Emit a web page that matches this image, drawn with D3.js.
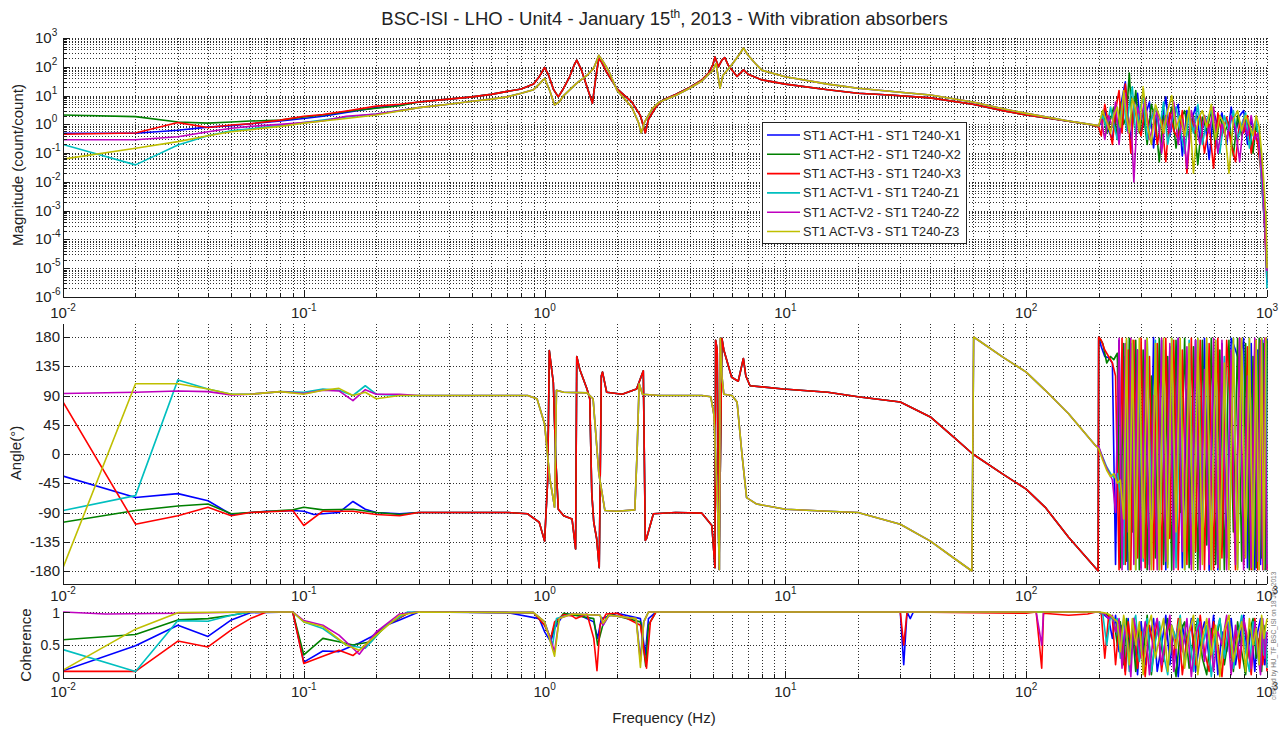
<!DOCTYPE html>
<html>
<head>
<meta charset="utf-8">
<script src="https://cdn.jsdelivr.net/npm/d3@7"></script>
<style>
  body { margin: 0; background: #fff; }
  svg { display: block; font-family: "Liberation Sans", Arial, sans-serif; }
</style>
</head>
<body>
<svg id="chart" width="1285" height="729"></svg>
<script>
// ---------------------------------------------------------------------------
// Transfer functions ST1 actuators -> ST1 T240 seismometers (BSC-ISI Unit4)
// ---------------------------------------------------------------------------
const seriesNames = [
  "ST1 ACT-H1 - ST1 T240-X1",
  "ST1 ACT-H2 - ST1 T240-X2",
  "ST1 ACT-H3 - ST1 T240-X3",
  "ST1 ACT-V1 - ST1 T240-Z1",
  "ST1 ACT-V2 - ST1 T240-Z2",
  "ST1 ACT-V3 - ST1 T240-Z3"
];
const seriesColors = ["#0000ff", "#008000", "#ff0000", "#00bfbf", "#bf00bf", "#bfbf00"];

const freqTicks = [0.01, 0.1, 1, 10, 100, 1000];
const magTicks = [1e-6, 1e-5, 1e-4, 1e-3, 1e-2, 1e-1, 1, 10, 100, 1000];
const angleTicks = [-180, -135, -90, -45, 0, 45, 90, 135, 180];
const cohTicks = [0, 0.5, 1];

// frequency points of the high-frequency (noisy) band, Hz
const freqNoiseH = [200,205,212,220,228,235,243,250,258,265,272,280,290,300,312,325,338,350,365,380,395,410,428,445,465,485,505,528,550,575,600,625,650,680,710,740,770,800,830,860,890,915,940,960,980,1000];
const freqNoiseV = [200,208,216,224,231,239,246,254,261,268,276,285,295,306,318,331,344,357,372,387,402,419,436,455,475,495,516,539,562,587,612,637,665,695,725,755,785,815,845,875,902,928,950,970,990,1000];

// ---- magnitude (count/count) ----
const magLowH1 = [[0.01,0.49],[0.02,0.49],[0.03,0.62],[0.04,0.8],[0.05,0.9],[0.06,1.05],[0.08,1.3],[0.1,1.6],[0.12,1.9],[0.15,2.6],[0.2,3.8],[0.25,4.6]];
const magLowH2 = [[0.01,2.1],[0.02,1.85],[0.03,1.2],[0.04,1.1],[0.05,1.2],[0.06,1.3],[0.08,1.4],[0.1,1.8],[0.12,2.1],[0.15,2.8],[0.2,3.6],[0.25,4.4]];
const magLowH3 = [[0.01,0.45],[0.02,0.5],[0.03,1.15],[0.04,0.78],[0.05,0.95],[0.06,1.05],[0.08,1.4],[0.1,1.9],[0.12,2.2],[0.15,2.9],[0.2,4.3],[0.25,5]];
const magLowV1 = [[0.01,0.2],[0.02,0.039],[0.03,0.19],[0.04,0.4],[0.05,0.6],[0.06,0.7],[0.08,0.9],[0.1,1.15],[0.12,1.4],[0.15,1.8],[0.2,2.3],[0.25,3]];
const magLowV2 = [[0.01,0.29],[0.02,0.29],[0.03,0.37],[0.04,0.55],[0.05,0.73],[0.06,0.85],[0.08,1.0],[0.1,1.15],[0.12,1.3],[0.15,1.9],[0.2,2.3],[0.25,3]];
const magLowV3 = [[0.01,0.062],[0.02,0.148],[0.03,0.25],[0.04,0.4],[0.05,0.55],[0.06,0.65],[0.08,0.85],[0.1,1.1],[0.12,1.3],[0.15,1.6],[0.2,2.1],[0.25,2.9]];

const magMidH = [[0.3,6],[0.4,7.5],[0.5,9],[0.6,11],[0.7,14],[0.8,17],[0.9,25],[0.95,45],[1.0,95],[1.04,50],[1.09,16],[1.14,9],[1.2,18],[1.27,45],[1.33,120],[1.36,170],[1.42,80],[1.5,20],[1.58,5.4],[1.63,40],[1.68,200],[1.72,150],[1.8,70],[2.0,17],[2.3,6],[2.5,2],[2.62,0.5],[2.7,1.5],[2.9,4],[3.1,7],[3.5,11],[4.0,19],[4.5,35],[4.8,60],[5.0,120],[5.1,220],[5.27,100],[5.45,170],[5.6,210],[5.8,110],[6.0,77],[6.3,46],[6.7,78],[7.0,55],[8,35],[10,25],[15,16],[20,12],[27,10.5],[40,8.3],[60,5],[80,3],[100,2.1],[132,1.5],[181,1.0],[199,0.82]];
const magMidV = [[0.3,3.8],[0.4,5],[0.5,6.3],[0.6,7.5],[0.7,9],[0.8,12],[0.9,16],[0.95,25],[1.0,40],[1.05,15],[1.1,4.7],[1.15,6],[1.2,10],[1.36,27],[1.5,50],[1.6,90],[1.68,250],[1.75,150],[1.85,70],[2.0,15],[2.3,4],[2.45,1.2],[2.52,0.5],[2.6,1.2],[2.8,3.5],[3.0,6],[3.5,10],[4.0,18],[4.5,32],[4.8,55],[5.0,75],[5.15,130],[5.35,18],[5.5,50],[6.0,120],[6.4,250],[6.7,450],[7.0,250],[7.5,130],[8,75],[10,45],[15,25],[20,18],[30,13],[40,10.5],[60,6],[80,3.5],[100,2.4],[150,1.3],[199,0.9]];

const magNoiseH1 = [0.85,1.2,3,0.6,0.3,2.5,0.5,8,30,1.5,0.3,4,12,0.5,2,6,0.15,3,1,9,0.4,2,5,0.08,3,1.2,4,0.3,2,0.06,3,0.8,2.5,0.2,4,0.5,2,3,0.2,1.5,0.4,0.3,0.05,0.003,2e-4,3e-6];
const magNoiseH2 = [0.8,3,0.5,1.5,4,0.3,6,1,2,60,0.8,15,0.5,3,0.2,5,1.5,0.05,2,0.8,4,0.15,1.5,3,0.3,2,0.04,1.8,0.6,3,0.15,2,0.5,1.2,0.08,2,0.4,1.5,0.7,0.1,1,0.3,0.04,0.004,3e-4,5e-6];
const magNoiseH3 = [0.8,0.4,5,1,0.2,3,15,0.5,25,2,0.1,6,1,0.4,4,0.7,3,0.2,1.5,0.05,2.5,0.6,0.3,3,0.02,1.5,0.5,2,0.1,1,0.03,2.5,0.4,1.8,0.2,0.05,1.2,0.5,2,0.1,0.6,0.2,0.03,0.003,2e-4,4e-6];
const magNoiseV1 = [0.9,2,0.7,4,1,0.3,2,10,0.6,5,20,0.4,3,8,0.3,1.5,4,0.6,6,0.2,1.2,4,0.7,0.1,2.5,0.5,5,0.2,1.5,3,0.4,0.1,2,0.6,3,0.3,1,2.5,0.15,0.8,1.5,0.2,0.01,0.001,1e-4,2e-6];
const magNoiseV2 = [0.9,1.5,0.3,2,0.8,6,0.2,3,12,0.5,2,0.01,4,1.5,8,0.3,1,3,0.1,2,0.5,6,0.2,1.5,0.03,3,0.8,0.2,2,0.5,4,0.1,1,0.3,2,0.7,0.05,1.5,0.4,2,0.3,0.5,0.06,0.008,4e-4,8e-6];
const magNoiseV3 = [0.9,3,1.2,0.5,2,4,0.8,15,2,0.5,8,3,0.6,20,1,0.2,5,2,0.5,3,10,0.7,2,0.4,4,0.02,1.5,3,0.8,5,0.3,2,1,0.02,1.5,3,0.6,2,1,0.4,2,0.8,0.1,0.01,6e-4,1e-5];

// ---- phase (degrees) ----
const phLowH1 = [[0.01,-34],[0.02,-67],[0.03,-61],[0.04,-72],[0.05,-93],[0.06,-90],[0.07,-88],[0.08,-88],[0.09,-87],[0.1,-88],[0.11,-93],[0.12,-92],[0.14,-90],[0.16,-73],[0.18,-85],[0.2,-90],[0.25,-92]];
const phLowH2 = [[0.01,-105],[0.02,-87],[0.03,-80],[0.04,-77],[0.05,-92],[0.06,-90],[0.08,-87],[0.09,-86],[0.1,-82],[0.12,-86],[0.16,-85],[0.2,-90],[0.25,-93]];
const phLowH3 = [[0.01,80],[0.02,-108],[0.03,-95],[0.04,-82],[0.05,-95],[0.06,-90],[0.08,-88],[0.09,-87],[0.1,-110],[0.12,-88],[0.16,-88],[0.2,-93],[0.25,-95]];
const phLowV1 = [[0.01,-87],[0.02,-64],[0.03,114],[0.04,100],[0.05,92],[0.06,92],[0.08,96],[0.1,95],[0.12,100],[0.14,98],[0.16,90],[0.18,105],[0.2,92],[0.25,90]];
const phLowV2 = [[0.01,93],[0.02,95],[0.03,97],[0.04,96],[0.05,91],[0.06,92],[0.08,96],[0.1,93],[0.12,98],[0.14,97],[0.16,82],[0.18,99],[0.2,92],[0.25,92]];
const phLowV3 = [[0.01,-175],[0.02,108],[0.03,108],[0.04,100],[0.05,92],[0.06,92],[0.08,96],[0.1,92],[0.12,98],[0.14,101],[0.16,90],[0.18,95],[0.2,85],[0.25,90]];

const phMidH = [[0.3,-90],[0.5,-90],[0.7,-90],[0.85,-92],[0.95,-105],[1.0,-134],[1.03,-40],[1.046,159],[1.087,110],[1.11,0],[1.14,-85],[1.2,-95],[1.3,-100],[1.345,-146],[1.36,150],[1.4,130],[1.5,100],[1.54,85],[1.57,-60],[1.6,-105],[1.645,-130],[1.686,-175],[1.72,120],[1.74,126],[1.81,95],[2.1,92],[2.41,100],[2.57,128],[2.62,-133],[2.65,-130],[2.83,-92],[3.5,-90],[4.5,-91],[4.95,-110],[5.1,-175],[5.13,175],[5.21,160],[5.3,-177],[5.45,178],[5.55,160],[5.98,118],[6.37,112],[6.69,147],[6.85,120],[7.13,105],[9.8,100],[15,95],[20,88],[30,80],[40,57],[50,26],[60,0],[80,-31],[100,-54],[120,-82],[150,-128],[199,-180]];
const phMidV = [[0.3,90],[0.5,90],[0.7,90],[0.85,90],[0.93,85],[1.0,46],[1.05,-36],[1.1,-82],[1.12,98],[1.2,95],[1.5,94],[1.59,85],[1.68,-30],[1.78,-87],[2.0,-88],[2.37,-86],[2.42,0],[2.47,108],[2.55,92],[3.0,90],[4.5,90],[4.9,88],[5.05,60],[5.15,-20],[5.25,-100],[5.32,-178],[5.36,178],[5.45,120],[5.55,92],[6.0,90],[6.3,80],[6.6,0],[6.9,-67],[7.6,-77],[10,-85],[15,-88],[20,-90],[30,-108],[40,-134],[50,-160],[59.5,-180],[60.5,180],[80,149],[100,126],[120,98],[150,62],[195,12]];

const phNoiseH1 = [180,165,150,148,140,-170,175,-160,150,-178,170,-100,160,-175,130,-170,179,-150,175,-178,165,-120,178,-175,100,-170,175,-160,178,-179,140,-178,170,-160,178,160,140,178,-175,170,-178,160,-170,175,-178,178];
const phNoiseH2 = [180,170,140,150,145,155,-175,170,-165,178,-120,175,-178,160,-178,120,-160,178,-170,150,-178,175,-90,178,-175,165,-178,175,-140,178,-170,160,-178,175,-120,178,-165,170,-178,150,-175,178,-160,170,-178,175];
const phNoiseH3 = [180,175,160,150,140,120,-178,178,-170,160,-178,175,-160,178,-175,150,-178,170,-178,178,-130,175,-178,160,-170,178,-150,175,-178,170,-178,178,-160,175,60,-178,178,-170,165,-178,175,-178,170,-165,178,-178];
const phNoiseV1 = [10,-5,-20,-30,-36,-30,-60,-170,175,-150,170,-178,130,-165,178,-100,175,-178,160,-170,178,-175,120,-178,175,-160,178,-140,170,-178,175,-178,150,-170,178,-175,160,-120,178,-178,170,-160,178,-175,170,-170];
const phNoiseV2 = [12,0,-15,-28,-40,-90,178,-178,170,-120,178,-170,160,-178,175,-178,90,-178,178,-165,170,-178,178,-150,165,-178,175,-178,130,-170,178,-175,175,-178,160,-170,178,-178,120,-175,178,-165,175,-178,178,-178];
const phNoiseV3 = [8,-10,-25,-35,-30,-45,-40,-100,178,-178,175,-178,178,-160,178,-178,170,-178,178,-175,178,-120,178,-178,170,-178,178,-170,178,-178,175,-178,140,-178,178,-178,178,-160,178,-178,175,-178,178,-178,178,178];

// ---- coherence ----
const cohLowH1 = [[0.01,0.11],[0.02,0.49],[0.03,0.8],[0.04,0.63],[0.05,0.88],[0.06,0.99],[0.09,1],[0.1,0.24],[0.12,0.41],[0.14,0.4],[0.17,0.53],[0.19,0.62],[0.22,0.8],[0.25,0.88]];
const cohLowH2 = [[0.01,0.58],[0.02,0.66],[0.03,0.88],[0.04,0.9],[0.05,0.95],[0.06,1],[0.09,1],[0.1,0.35],[0.12,0.6],[0.14,0.55],[0.16,0.5],[0.19,0.55],[0.22,0.8],[0.27,0.98]];
const cohLowH3 = [[0.01,0.1],[0.02,0.1],[0.03,0.56],[0.04,0.47],[0.05,0.73],[0.06,0.9],[0.07,1],[0.09,1],[0.1,0.22],[0.12,0.33],[0.14,0.42],[0.16,0.34],[0.18,0.5],[0.22,0.8],[0.27,0.98]];
const cohLowV1 = [[0.01,0.43],[0.02,0.1],[0.03,0.87],[0.04,0.86],[0.05,0.95],[0.06,1],[0.09,1],[0.1,0.85],[0.12,0.75],[0.15,0.5],[0.18,0.45],[0.22,0.8],[0.27,1]];
const cohLowV2 = [[0.01,1],[0.015,0.97],[0.03,0.98],[0.06,1],[0.09,1],[0.1,0.87],[0.12,0.8],[0.14,0.65],[0.17,0.36],[0.2,0.7],[0.25,0.97]];
const cohLowV3 = [[0.01,0.12],[0.02,0.74],[0.03,0.99],[0.06,1],[0.09,1],[0.1,0.85],[0.12,0.78],[0.15,0.5],[0.17,0.42],[0.2,0.65],[0.25,0.95]];

const cohMidH1 = [[0.3,1],[0.7,0.99],[0.95,0.9],[1.0,0.7],[1.06,0.55],[1.1,0.75],[1.2,0.97],[1.4,0.95],[1.6,0.85],[1.66,0.6],[1.72,0.9],[2.0,0.98],[2.5,0.9],[2.62,0.35],[2.7,0.9],[2.9,1],[30,1],[31,0.2],[32,1],[33,0.9],[34,1],[195,1]];
const cohMidH2 = [[0.3,1],[0.9,0.99],[1.0,0.8],[1.06,0.6],[1.1,0.8],[1.2,0.98],[1.6,0.9],[1.66,0.5],[1.75,0.82],[1.85,0.97],[2.5,0.85],[2.63,0.18],[2.7,0.8],[2.9,1],[195,1]];
const cohMidH3 = [[0.3,1],[0.9,0.99],[1.0,0.8],[1.06,0.6],[1.1,0.85],[1.2,0.96],[1.3,0.94],[1.35,0.9],[1.5,0.97],[1.6,0.6],[1.65,0.11],[1.7,0.8],[1.8,0.97],[2.0,0.98],[2.5,0.8],[2.65,0.15],[2.75,0.85],[2.9,1],[30,1],[31,0.5],[32,1],[100,0.98],[110,1],[116,0.15],[118,0.98],[150,0.95],[180,0.97],[195,1]];
const cohMidV1 = [[0.3,1],[0.9,0.99],[1.0,0.85],[1.08,0.5],[1.12,0.9],[1.3,0.97],[1.7,0.95],[1.75,0.8],[1.85,0.95],[2.4,0.9],[2.5,0.3],[2.58,0.85],[2.7,1],[195,1]];
const cohMidV2 = [[0.3,1],[0.9,0.99],[1.0,0.85],[1.1,0.4],[1.15,0.9],[1.3,0.97],[1.7,0.95],[1.75,0.8],[1.85,0.95],[2.4,0.9],[2.5,0.25],[2.58,0.85],[2.7,1],[110,1],[116,0.5],[118,1],[195,1]];
const cohMidV3 = [[0.3,1],[0.9,0.99],[1.0,0.85],[1.1,0.33],[1.15,0.9],[1.3,0.97],[1.7,0.95],[1.75,0.83],[1.85,0.95],[2.4,0.9],[2.5,0.16],[2.58,0.85],[2.7,1],[195,1]];

const cohNoiseH1 = [1,0.97,0.95,0.9,0.6,0.95,0.4,0.8,0.1,0.9,0.3,0.7,0.05,0.85,0.2,0.6,0.9,0.1,0.5,0.95,0.2,0.7,0.02,0.8,0.4,0.9,0.1,0.6,0.85,0.3,0.95,0.05,0.7,0.4,0.9,0.2,0.6,0.95,0.3,0.8,0.1,0.7,0.9,0.4,0.2,0.6];
const cohNoiseH2 = [1,0.98,0.96,0.92,0.9,0.5,0.85,0.2,0.9,0.4,0.75,0.1,0.8,0.35,0.95,0.05,0.6,0.8,0.25,0.9,0.45,0.02,0.7,0.85,0.15,0.6,0.9,0.3,0.05,0.75,0.5,0.9,0.2,0.65,0.1,0.85,0.4,0.05,0.7,0.9,0.3,0.6,0.1,0.8,0.5,0.3];
const cohNoiseH3 = [1,0.98,0.3,0.95,0.9,0.2,0.8,0.6,0.05,0.85,0.5,0.9,0.15,0.7,0.02,0.8,0.45,0.9,0.1,0.65,0.85,0.3,0.9,0.05,0.6,0.8,0.2,0.95,0.4,0.1,0.85,0.5,0.02,0.9,0.3,0.7,0.15,0.85,0.55,0.05,0.9,0.35,0.75,0.2,0.6,0.1];
const cohNoiseV1 = [1,0.97,0.5,0.95,0.85,0.9,0.3,0.9,0.6,0.1,0.8,0.95,0.25,0.7,0.9,0.1,0.55,0.85,0.35,0.05,0.8,0.6,0.95,0.2,0.7,0.1,0.9,0.45,0.8,0.02,0.65,0.9,0.3,0.85,0.15,0.6,0.95,0.4,0.1,0.85,0.5,0.2,0.9,0.35,0.7,0.15];
const cohNoiseV2 = [1,0.99,0.97,0.9,0.95,0.7,0.9,0.15,0.8,0.5,0.02,0.9,0.6,0.3,0.85,0.05,0.7,0.9,0.2,0.6,0.95,0.1,0.75,0.4,0.9,0.02,0.65,0.85,0.25,0.9,0.1,0.7,0.5,0.95,0.05,0.8,0.3,0.9,0.6,0.15,0.85,0.4,0.05,0.9,0.3,0.7];
const cohNoiseV3 = [1,0.99,0.98,0.95,0.9,0.85,0.4,0.95,0.7,0.2,0.9,0.5,0.85,0.05,0.75,0.95,0.3,0.6,0.9,0.1,0.8,0.45,0.9,0.15,0.7,0.95,0.05,0.6,0.9,0.35,0.8,0.02,0.7,0.95,0.25,0.6,0.85,0.1,0.9,0.5,0.75,0.2,0.95,0.6,0.8,0.9];

// join the low, mid and noisy frequency bands of one trace
function assemble(low, mid, noise, freqs) {
  const pts = low.concat(mid).map(([f, v]) => ({ f, v }));
  noise.forEach((v, i) => pts.push({ f: freqs[i], v }));
  return pts;
}

const magnitude = [
  assemble(magLowH1, magMidH, magNoiseH1, freqNoiseH),
  assemble(magLowH2, magMidH, magNoiseH2, freqNoiseV),
  assemble(magLowH3, magMidH, magNoiseH3, freqNoiseH),
  assemble(magLowV1, magMidV, magNoiseV1, freqNoiseV),
  assemble(magLowV2, magMidV, magNoiseV2, freqNoiseH),
  assemble(magLowV3, magMidV, magNoiseV3, freqNoiseV)
];
const phase = [
  assemble(phLowH1, phMidH, phNoiseH1, freqNoiseH),
  assemble(phLowH2, phMidH, phNoiseH2, freqNoiseV),
  assemble(phLowH3, phMidH, phNoiseH3, freqNoiseH),
  assemble(phLowV1, phMidV, phNoiseV1, freqNoiseV),
  assemble(phLowV2, phMidV, phNoiseV2, freqNoiseH),
  assemble(phLowV3, phMidV, phNoiseV3, freqNoiseV)
];
const coherence = [
  assemble(cohLowH1, cohMidH1, cohNoiseH1, freqNoiseH),
  assemble(cohLowH2, cohMidH2, cohNoiseH2, freqNoiseV),
  assemble(cohLowH3, cohMidH3, cohNoiseH3, freqNoiseH),
  assemble(cohLowV1, cohMidV1, cohNoiseV1, freqNoiseV),
  assemble(cohLowV2, cohMidV2, cohNoiseV2, freqNoiseH),
  assemble(cohLowV3, cohMidV3, cohNoiseV3, freqNoiseV)
];

// ---------------------------------------------------------------------------
const svg = d3.select("#chart");
const left = 63, right = 1267;
const x = d3.scaleLog().domain([0.01, 1000]).range([left, right]);

const panels = [
  { id: "mag", top: 38, bottom: 297, data: magnitude, xLabelY: 318,
    y: d3.scaleLog().domain([1e-6, 1e3]).range([297, 38]) },
  { id: "ph", top: 324, bottom: 584, data: phase, xLabelY: 601,
    y: d3.scaleLinear().domain([-200, 200]).range([584, 324]) },
  { id: "coh", top: 612, bottom: 678, data: coherence, xLabelY: 697,
    y: d3.scaleLinear().domain([0, 1]).range([678, 612]) }
];

const xMinor = [];
for (let e = -2; e < 3; e++) for (let k = 2; k <= 9; k++) xMinor.push(k * Math.pow(10, e));
const magMinor = [];
for (let e = -6; e < 3; e++) for (let k = 2; k <= 9; k++) magMinor.push(k * Math.pow(10, e));

const crisp = v => Math.round(v) + 0.5;
const gridColor = "#2e2e2e";
const axisColor = "#1a1a1a";
const textColor = "#222";

function hGrid(g, p, values) {
  g.selectAll(null).data(values).join("line")
    .attr("x1", left).attr("x2", right)
    .attr("y1", d => crisp(p.y(d))).attr("y2", d => crisp(p.y(d)))
    .attr("stroke", gridColor).attr("stroke-width", 1)
    .attr("stroke-dasharray", "1,2").attr("shape-rendering", "crispEdges");
}
function vGrid(g, p, values) {
  g.selectAll(null).data(values).join("line")
    .attr("y1", p.top).attr("y2", p.bottom)
    .attr("x1", d => crisp(x(d))).attr("x2", d => crisp(x(d)))
    .attr("stroke", gridColor).attr("stroke-width", 1)
    .attr("stroke-dasharray", "1,2").attr("shape-rendering", "crispEdges");
}

panels.forEach(p => {
  const g = svg.append("g").attr("class", "grid-" + p.id);
  vGrid(g, p, freqTicks.filter(f => f > 0.01).concat(xMinor));
  if (p.id === "mag") hGrid(g, p, magTicks.filter(v => v > 1e-6).concat(magMinor));
  if (p.id === "ph") hGrid(g, p, angleTicks);
  if (p.id === "coh") hGrid(g, p, cohTicks.filter(v => v > 0));

  // traces
  svg.append("clipPath").attr("id", "clip-" + p.id)
    .append("rect").attr("x", left).attr("y", p.top - 1)
    .attr("width", right - left + 1).attr("height", p.bottom - p.top + 1);
  const line = d3.line().x(d => x(d.f)).y(d => p.y(d.v));
  svg.append("g").attr("clip-path", `url(#clip-${p.id})`)
    .selectAll("path").data(p.data).join("path")
    .attr("d", line)
    .attr("fill", "none")
    .attr("stroke", (d, i) => seriesColors[i])
    .attr("stroke-width", 1.6)
    .attr("stroke-linejoin", "round");

  // axes: bottom and left lines with inward ticks
  const a = svg.append("g").attr("class", "axes-" + p.id);
  a.append("line").attr("x1", left).attr("x2", right)
    .attr("y1", crisp(p.bottom)).attr("y2", crisp(p.bottom))
    .attr("stroke", axisColor).attr("shape-rendering", "crispEdges");
  a.append("line").attr("x1", crisp(left)).attr("x2", crisp(left))
    .attr("y1", p.top).attr("y2", p.bottom)
    .attr("stroke", axisColor).attr("shape-rendering", "crispEdges");

  const xt = freqTicks.map(f => ({ f, len: 7 })).concat(xMinor.map(f => ({ f, len: 4 })));
  a.selectAll(null).data(xt).join("line")
    .attr("x1", d => crisp(x(d.f))).attr("x2", d => crisp(x(d.f)))
    .attr("y1", p.bottom).attr("y2", d => p.bottom - d.len)
    .attr("stroke", axisColor).attr("shape-rendering", "crispEdges");

  let yt;
  if (p.id === "mag") yt = magTicks.map(v => ({ v, len: 7 })).concat(magMinor.map(v => ({ v, len: 4 })));
  else if (p.id === "ph") yt = angleTicks.map(v => ({ v, len: 7 }));
  else yt = cohTicks.map(v => ({ v, len: 7 }));
  a.selectAll(null).data(yt).join("line")
    .attr("y1", d => crisp(p.y(d.v))).attr("y2", d => crisp(p.y(d.v)))
    .attr("x1", left).attr("x2", d => left + d.len)
    .attr("stroke", axisColor).attr("shape-rendering", "crispEdges");

  // frequency tick labels as 10^n
  freqTicks.forEach(f => {
    const t = a.append("text").attr("x", x(f)).attr("y", p.xLabelY)
      .attr("text-anchor", "middle").attr("font-size", 15).attr("fill", textColor);
    t.append("tspan").text("10");
    t.append("tspan").attr("dy", -7).attr("font-size", 10).text(Math.round(Math.log10(f)));
  });

  // value tick labels
  if (p.id === "mag") {
    magTicks.forEach(v => {
      const t = a.append("text").attr("x", 35).attr("y", p.y(v) + 5)
        .attr("font-size", 15).attr("fill", textColor);
      t.append("tspan").text("10");
      t.append("tspan").attr("dy", -7).attr("font-size", 10).text(Math.round(Math.log10(v)));
    });
  } else if (p.id === "ph") {
    a.selectAll(null).data(angleTicks).join("text")
      .attr("x", 60).attr("y", d => p.y(d) + 5)
      .attr("text-anchor", "end").attr("font-size", 15).attr("fill", textColor)
      .text(d => d);
  } else {
    const cohOffset = { 0: 4, 0.5: 5, 1: 6 };
    a.selectAll(null).data(cohTicks).join("text")
      .attr("x", 60).attr("y", d => p.y(d) + cohOffset[d])
      .attr("text-anchor", "end").attr("font-size", 14).attr("fill", textColor)
      .text(d => d);
  }
});

// axis titles
const titles = [
  { text: "Magnitude (count/count)", x: 22.5, y: 165 },
  { text: "Angle(\u00b0)", x: 20.5, y: 453 },
  { text: "Coherence", x: 31, y: 645 }
];
titles.forEach(t => {
  svg.append("text").attr("transform", `translate(${t.x},${t.y}) rotate(-90)`)
    .attr("text-anchor", "middle").attr("font-size", 15).attr("fill", textColor).text(t.text);
});
svg.append("text").attr("x", 664).attr("y", 723).attr("text-anchor", "middle")
  .attr("font-size", 15).attr("fill", textColor).text("Frequency (Hz)");

// figure title with ordinal superscript
const title = svg.append("text").attr("x", 664.5).attr("y", 25).attr("text-anchor", "middle")
  .attr("font-size", 18.5).attr("fill", textColor);
title.append("tspan").text("BSC-ISI - LHO - Unit4 - January 15");
title.append("tspan").attr("dy", -7).attr("font-size", 12).text("th");
title.append("tspan").attr("dy", 7).text(", 2013 - With vibration absorbers");

// small vertical stamp at the right margin
svg.append("text").attr("transform", "translate(1276,700) rotate(-90)")
  .attr("font-size", 6.5).attr("fill", "#777")
  .text("created by HU_TF_BSC_ISI on 18 Jan 2013");

// legend
const lg = svg.append("g").attr("class", "legend");
lg.append("rect").attr("x", 762.5).attr("y", 122.5).attr("width", 204).attr("height", 121)
  .attr("fill", "#fff").attr("stroke", "#222").attr("stroke-width", 1);
const legendY = d3.scalePoint().domain(seriesNames).range([135, 231.5]);
seriesNames.forEach((name, i) => {
  lg.append("line").attr("x1", 767).attr("x2", 800)
    .attr("y1", legendY(name)).attr("y2", legendY(name))
    .attr("stroke", seriesColors[i]).attr("stroke-width", 1.6);
  lg.append("text").attr("x", 803).attr("y", legendY(name) + 4.5)
    .attr("font-size", 12.7).attr("fill", textColor).text(name);
});
</script>
</body>
</html>
